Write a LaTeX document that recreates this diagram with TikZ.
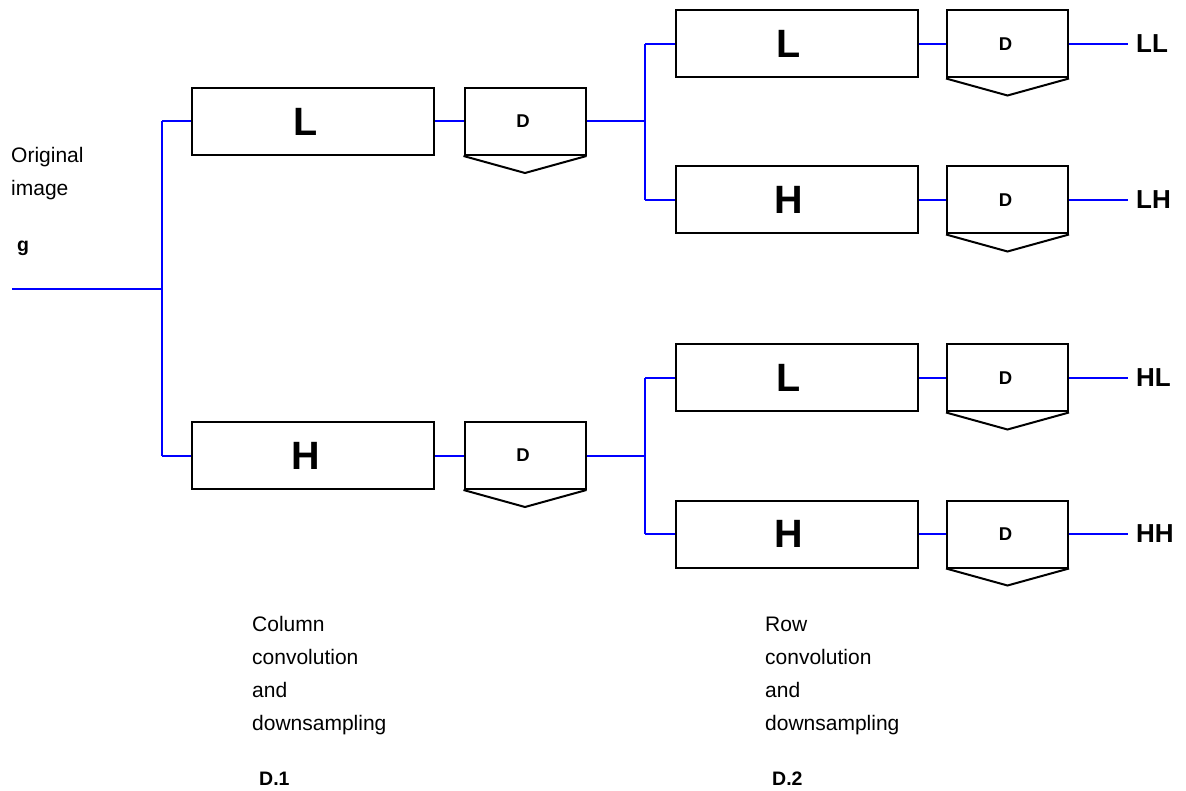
\documentclass[tikz,border=0pt]{standalone}
\usepackage{fontspec}
\setmainfont{Liberation Sans}
\usetikzlibrary{calc}
\tikzset{
  filterbox/.style={draw=black, line width=2pt, minimum width=242pt, minimum height=67pt,
    inner sep=0pt, font=\fontsize{39.5}{40}\selectfont\bfseries},
  downbox/.style={draw=black, line width=2pt, minimum width=121pt, minimum height=67pt,
    inner sep=0pt, font=\fontsize{18.5}{18}\selectfont\bfseries},
  wire/.style={draw=blue, line width=2pt},
  outlabel/.style={anchor=west, inner sep=0pt, font=\fontsize{26}{26}\selectfont\bfseries},
  note/.style={anchor=base west, inner sep=0pt, font=\fontsize{21}{21}\selectfont},
  notebold/.style={anchor=base west, inner sep=0pt, font=\fontsize{19.5}{19.5}\selectfont\bfseries},
}
% down-sampler: box with a downward wedge under it
\newcommand{\wedgeunder}[1]{%
  \draw[line width=2pt, line join=miter] (#1.south west) -- ($(#1.south)+(0,17)$) -- (#1.south east);}
% letter inside a filter box, set a little left of the centre
\newcommand{\boxletter}[2]{\node[inner sep=0pt, font=\fontsize{39.5}{40}\selectfont\bfseries] at ($(#1.center)+(-7.5,0)$) {#2};}
\newcommand{\dletter}[1]{\node[inner sep=0pt, font=\fontsize{18.5}{18}\selectfont\bfseries] at ($(#1.center)+(-2,0)$) {D};}
\begin{document}
\begin{tikzpicture}[x=1pt, y=-1pt]
\useasboundingbox (0,0) rectangle (1186,791);

% first stage: column filters
\node[filterbox] (L1) at (313,121.5) {};
\node[downbox]   (D1) at (525,121.5) {};
\node[filterbox] (H1) at (313,455.5) {};
\node[downbox]   (D2) at (525,455.5) {};

% second stage: row filters
\node[filterbox] (LLf) at (796.5,44) {};
\node[downbox]   (LLd) at (1007.5,44) {};
\node[filterbox] (LHf) at (796.5,200) {};
\node[downbox]   (LHd) at (1007.5,200) {};
\node[filterbox] (HLf) at (796.5,378) {};
\node[downbox]   (HLd) at (1007.5,378) {};
\node[filterbox] (HHf) at (796.5,534) {};
\node[downbox]   (HHd) at (1007.5,534) {};

\boxletter{L1}{L}
\boxletter{H1}{H}
\boxletter{LLf}{L}
\boxletter{LHf}{H}
\boxletter{HLf}{L}
\boxletter{HHf}{H}
\foreach \n in {D1,D2,LLd,LHd,HLd,HHd} {\dletter{\n}\wedgeunder{\n}}

% junctions and free ends
\coordinate (in) at (12,289);
\coordinate (j1) at (162,289);
\coordinate (j2) at (645,121.5);
\coordinate (j3) at (645,455.5);
\coordinate (oLL) at (1128,44);
\coordinate (oLH) at (1128,200);
\coordinate (oHL) at (1128,378);
\coordinate (oHH) at (1128,534);

% wiring
\draw[wire] (in) -- (j1);
\draw[wire] (j1 |- L1.west) -- (j1 |- H1.west);
\draw[wire] (j1 |- L1.west) -- (L1.west);
\draw[wire] (j1 |- H1.west) -- (H1.west);
\draw[wire] (L1.east) -- (D1.west);
\draw[wire] (H1.east) -- (D2.west);
\draw[wire] (D1.east) -- (j2);
\draw[wire] (D2.east) -- (j3);
\draw[wire] (j2 |- LLf.west) -- (j2 |- LHf.west);
\draw[wire] (j3 |- HLf.west) -- (j3 |- HHf.west);
\draw[wire] (j2 |- LLf.west) -- (LLf.west);
\draw[wire] (j2 |- LHf.west) -- (LHf.west);
\draw[wire] (j3 |- HLf.west) -- (HLf.west);
\draw[wire] (j3 |- HHf.west) -- (HHf.west);
\draw[wire] (LLf.east) -- (LLd.west);
\draw[wire] (LHf.east) -- (LHd.west);
\draw[wire] (HLf.east) -- (HLd.west);
\draw[wire] (HHf.east) -- (HHd.west);
\draw[wire] (LLd.east) -- (oLL);
\draw[wire] (LHd.east) -- (oLH);
\draw[wire] (HLd.east) -- (oHL);
\draw[wire] (HHd.east) -- (oHH);

% sub-band labels
\node[outlabel] (tLL) at (1136,44) {LL};
\node[outlabel] (tLH) at (1136,200) {LH};
\node[outlabel] (tHL) at (1136,378) {HL};
\node[outlabel] (tHH) at (1136,534) {HH};

% input description
\node[note] (orig) at (11,163) {Original};
\node[note] (img)  at (11,196) {image};
\node[notebold] (g) at (17,252) {g};

% stage descriptions
\node[note] (c1) at (252,631) {Column};
\node[note] (c2) at (252,664) {convolution};
\node[note] (c3) at (252,697) {and};
\node[note] (c4) at (252,730) {downsampling};
\node[notebold] (d1) at (259,785) {D.1};

\node[note] (r1) at (765,631) {Row};
\node[note] (r2) at (765,664) {convolution};
\node[note] (r3) at (765,697) {and};
\node[note] (r4) at (765,730) {downsampling};
\node[notebold] (d2) at (772,785) {D.2};
\end{tikzpicture}
\end{document}
